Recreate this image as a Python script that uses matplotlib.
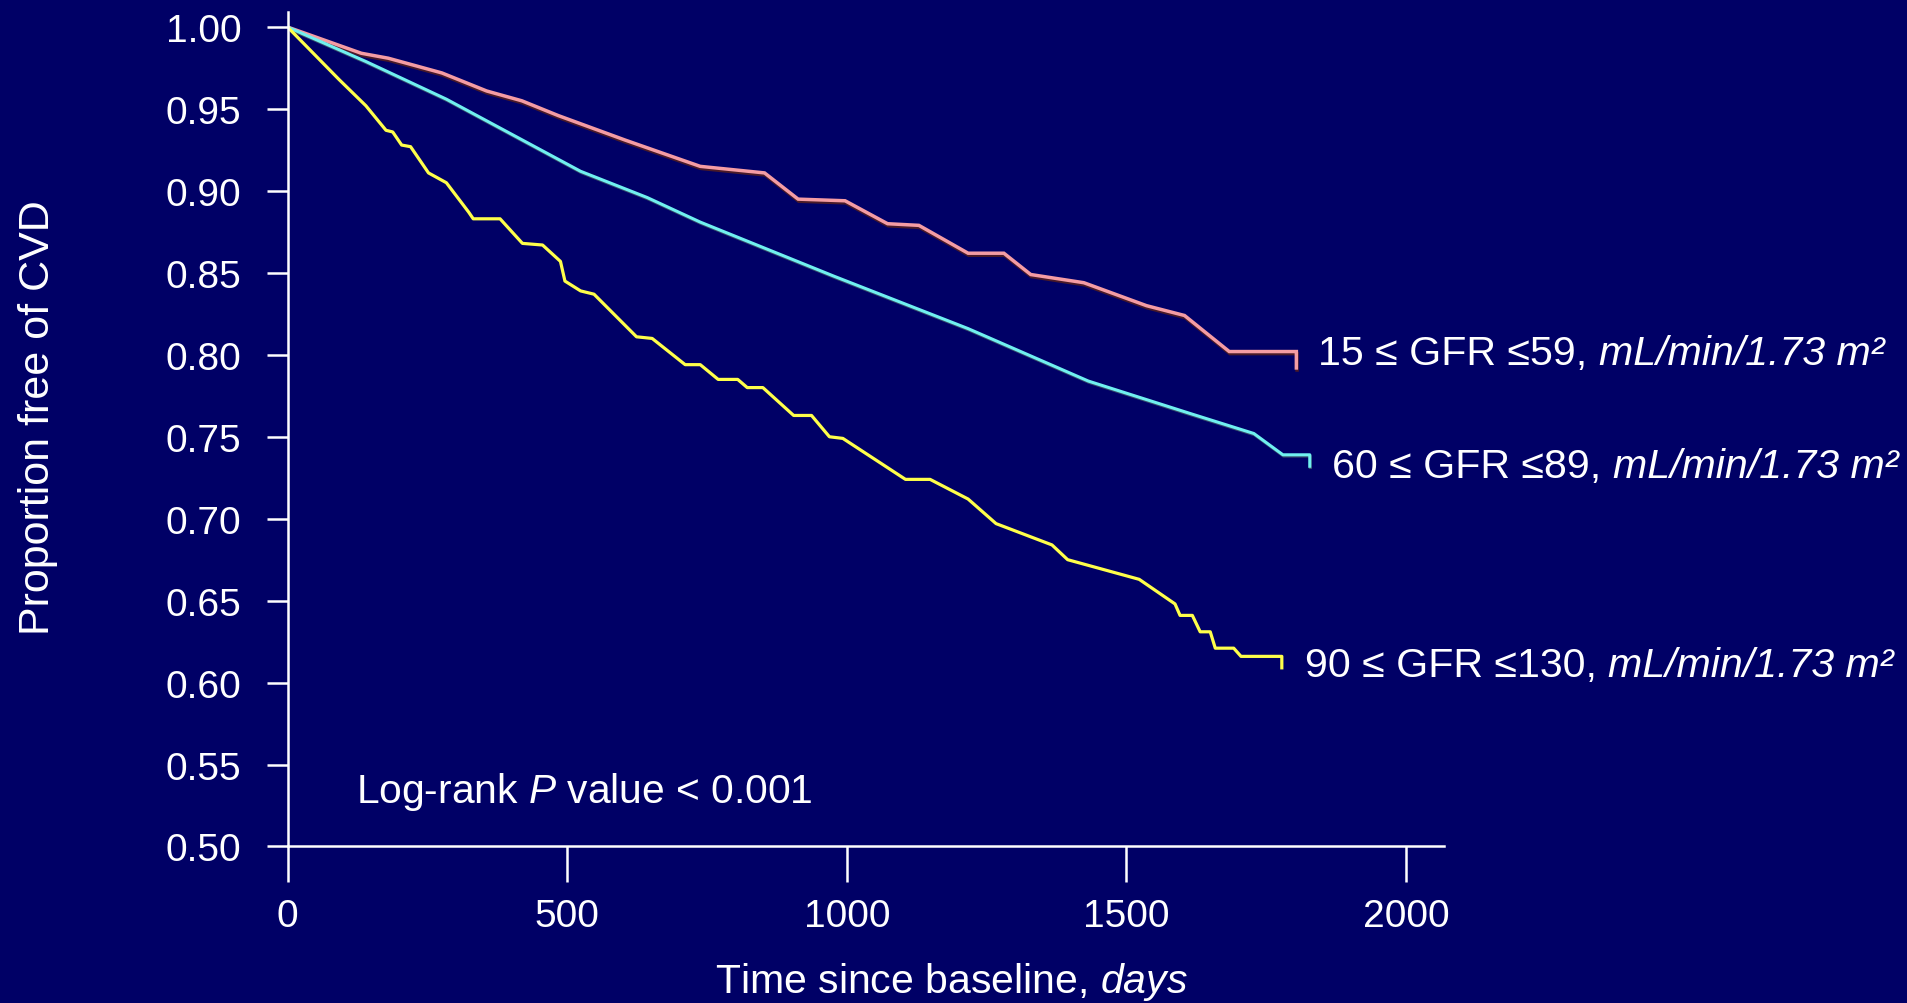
import matplotlib
matplotlib.use("Agg")
import matplotlib.pyplot as plt
import matplotlib.patheffects as pe

plt.rcParams['font.family'] = ['Liberation Sans', 'DejaVu Sans']
plt.rcParams['mathtext.fontset'] = 'custom'
plt.rcParams['mathtext.rm'] = 'Liberation Sans'
plt.rcParams['mathtext.it'] = 'Liberation Sans:italic'
plt.rcParams['mathtext.default'] = 'it'

# ---- data ----
red_days = [0, 132, 180, 276, 356, 419, 484, 604, 738, 853, 913, 997, 1073, 1129,
            1217, 1281, 1329, 1424, 1536, 1604, 1684, 1804, 1804]
red_surv = [1.000, 0.984, 0.981, 0.972, 0.961, 0.955, 0.946, 0.931, 0.915, 0.911,
            0.895, 0.894, 0.880, 0.879, 0.862, 0.862, 0.849, 0.844, 0.830, 0.824,
            0.802, 0.802, 0.792]

cyan_days = [0, 140, 284, 404, 524, 643, 738, 977, 1217, 1432, 1616, 1728, 1780, 1828, 1828]
cyan_surv = [1.000, 0.979, 0.956, 0.934, 0.912, 0.896, 0.881, 0.848, 0.816, 0.784,
             0.764, 0.752, 0.739, 0.739, 0.732]

yel_days = [0, 92, 140, 176, 188, 204, 220, 252, 284, 324, 332, 380, 420, 456, 488,
            496, 524, 548, 624, 652, 711, 738, 770, 805, 822, 850, 905, 937, 969,
            993, 1105, 1149, 1217, 1267, 1367, 1395, 1523, 1587, 1596, 1618, 1632,
            1650, 1659, 1692, 1705, 1778, 1778]
yel_surv = [1.000, 0.968, 0.952, 0.937, 0.936, 0.928, 0.927, 0.911, 0.905, 0.887,
            0.883, 0.883, 0.868, 0.867, 0.857, 0.845, 0.839, 0.837, 0.811, 0.810,
            0.794, 0.794, 0.785, 0.785, 0.780, 0.780, 0.763, 0.763, 0.750, 0.749,
            0.724, 0.724, 0.712, 0.697, 0.684, 0.675, 0.663, 0.648, 0.641, 0.641,
            0.631, 0.631, 0.621, 0.621, 0.616, 0.616, 0.609]

group_labels = ["15 ≤ GFR ≤59, ", "60 ≤ GFR ≤89, ", "90 ≤ GFR ≤130, "]
unit_label = "mL/min/1.73 m²"
x_ticks = [0, 500, 1000, 1500, 2000]
y_ticks = [0.50, 0.55, 0.60, 0.65, 0.70, 0.75, 0.80, 0.85, 0.90, 0.95, 1.00]

BG = '#000066'
WHITE = 'white'

fig = plt.figure(figsize=(19.07, 10.04), dpi=100, facecolor=BG)
ax = fig.add_axes([0.1508, 0.1559, 0.6064, 0.8315], facecolor=BG)

ax.plot(red_days, red_surv, color='#f49ca4', lw=2.5, solid_joinstyle='miter',
        path_effects=[pe.SimpleLineShadow(offset=(0.5, -1.5), shadow_color='#4a1a28', alpha=1.0),
                      pe.Normal()])
ax.plot(cyan_days, cyan_surv, color='#70f0f0', lw=2.2,
        path_effects=[pe.SimpleLineShadow(offset=(0.4, -0.9), shadow_color='#507070', alpha=0.7),
                      pe.Normal()])
ax.plot(yel_days, yel_surv, color='#ffff4a', lw=2.3)

ax.set_xlim(0, 2068)
ax.set_ylim(0.50, 1.0094)
ax.set_xticks(x_ticks)
ax.set_xticklabels([str(t) for t in x_ticks])
ax.set_yticks(y_ticks)
ax.set_yticklabels([f"{t:.2f}" for t in y_ticks])

for s in ['top', 'right']:
    ax.spines[s].set_visible(False)
for s in ['left', 'bottom']:
    ax.spines[s].set_color(WHITE)
    ax.spines[s].set_linewidth(1.8)

ax.tick_params(axis='x', direction='out', length=25.7, width=1.8, color=WHITE,
               labelcolor=WHITE, labelsize=28, pad=11.5)
ax.tick_params(axis='y', direction='out', length=15.4, width=1.8, color=WHITE,
               labelcolor=WHITE, labelsize=28, pad=18)

ax.set_xlabel(r"Time since baseline, $days$", color=WHITE, fontsize=29.5)
ax.xaxis.set_label_coords(0.574, -0.1743)
ax.xaxis.label.set_verticalalignment('baseline')
ax.xaxis.label.set_horizontalalignment('center')

ax.set_ylabel("Proportion free of CVD", color=WHITE, fontsize=31)
ax.yaxis.set_label_coords(-0.2162, 0.5145)
ax.yaxis.label.set_verticalalignment('center')

ax.text(0.0592, 0.0528, r"Log-rank $P$ value < 0.001", transform=ax.transAxes,
        color=WHITE, fontsize=29.3, ha='left', va='baseline')

label_pos = [(0.8911, 0.578), (0.9032, 0.4423), (0.8795, 0.2046)]
for lab, (lx, ly) in zip(group_labels, label_pos):
    t1 = ax.text(lx, ly, lab, transform=ax.transAxes, color=WHITE,
                 fontsize=29.6, ha='left', va='baseline', clip_on=False)
    ax.annotate(unit_label, xy=(1, 0), xycoords=t1, color=WHITE, fontsize=29.6,
                fontstyle='italic', ha='left', va='bottom', annotation_clip=False)

fig.savefig("out.png", dpi=100, facecolor=BG)
